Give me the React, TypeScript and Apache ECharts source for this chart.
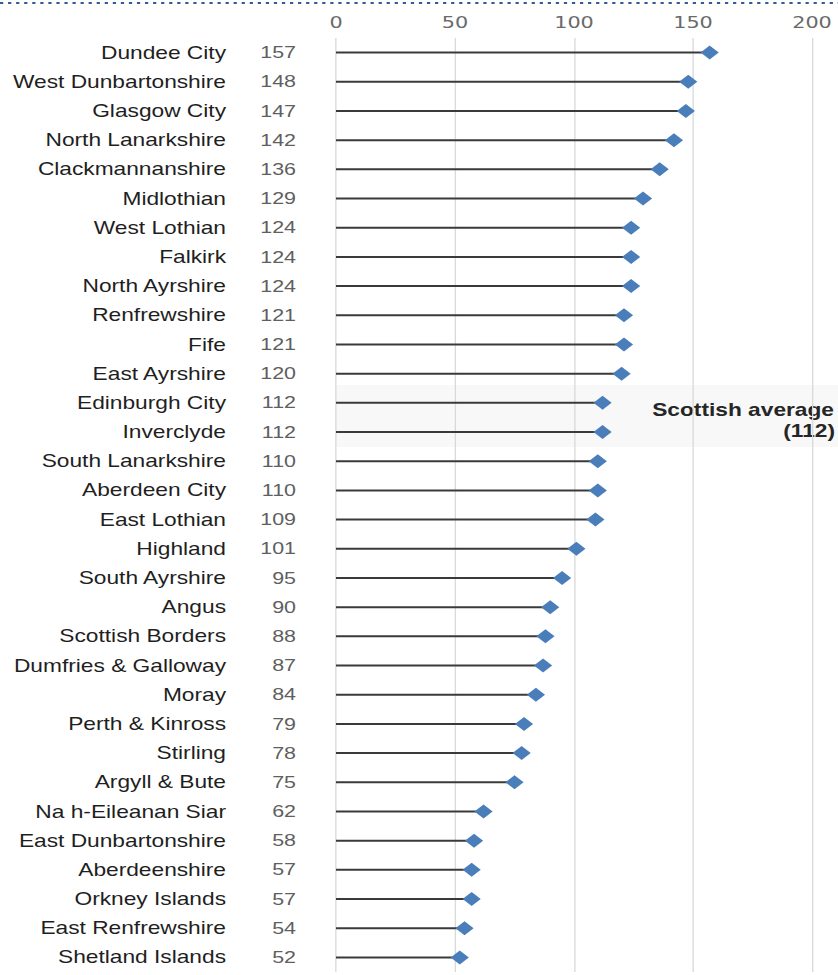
import React, { useEffect, useRef } from "react";
import * as echarts from "echarts";

const names = [
  "Dundee City", "West Dunbartonshire", "Glasgow City", "North Lanarkshire", "Clackmannanshire",
  "Midlothian", "West Lothian", "Falkirk", "North Ayrshire", "Renfrewshire", "Fife",
  "East Ayrshire", "Edinburgh City", "Inverclyde", "South Lanarkshire", "Aberdeen City",
  "East Lothian", "Highland", "South Ayrshire", "Angus", "Scottish Borders",
  "Dumfries & Galloway", "Moray", "Perth & Kinross", "Stirling", "Argyll & Bute",
  "Na h-Eileanan Siar", "East Dunbartonshire", "Aberdeenshire", "Orkney Islands",
  "East Renfrewshire", "Shetland Islands",
];
const values = [
  157, 148, 147, 142, 136, 129, 124, 124, 124, 121, 121, 120, 112, 112, 110, 110,
  109, 101, 95, 90, 88, 87, 84, 79, 78, 75, 62, 58, 57, 57, 54, 52,
];
const xTicks = { min: 0, max: 200, interval: 50 };
const averageLabel = ["Scottish average", "(112)"];

const OUT_W = 838;
const H = 975;
const W = 645;
const S = OUT_W / W;

export default function App() {
  const ref = useRef<HTMLDivElement>(null);
  useEffect(() => {
    if (!ref.current) return;
    const chart = echarts.init(ref.current, null, { renderer: "svg" });
    const ix = (x: number) => x / S;
    chart.setOption({
      animation: false,
      backgroundColor: "#ffffff",
      grid: { left: ix(336), right: W - ix(812), top: 38, bottom: 3, containLabel: false },
      xAxis: {
        type: "value",
        position: "top",
        min: xTicks.min,
        max: xTicks.max,
        interval: xTicks.interval,
        axisLine: { show: false },
        axisTick: { show: false },
        splitLine: { show: true, lineStyle: { color: "#d9d9d9", width: 1 } },
        axisLabel: { color: "#6a6a6a", fontFamily: "DejaVu Sans", fontSize: 16, margin: 8 },
      },
      yAxis: [
        {
          type: "category",
          data: names,
          inverse: true,
          position: "left",
          axisLine: { show: false },
          axisTick: { show: false },
          splitLine: { show: false },
          axisLabel: {
            interval: 0,
            margin: ix(336) - ix(226),
            color: "#1f1f1f",
            fontFamily: "Liberation Sans, Arial, sans-serif",
            fontSize: 17.5,
            padding: [0, 0, 2, 0],
          },
        },
        {
          type: "category",
          data: names,
          inverse: true,
          position: "left",
          axisLine: { show: false },
          axisTick: { show: false },
          splitLine: { show: false },
          axisLabel: {
            interval: 0,
            margin: ix(336) - ix(296),
            color: "#5f5f5f",
            fontFamily: "Liberation Sans, Arial, sans-serif",
            fontSize: 16.5,
            align: "right",
            padding: [0, 0, 9, 0],
            formatter: (_v: string, i: number) => String(values[i]),
          },
        },
      ],
      graphic: [
        {
          type: "rect",
          z: -1,
          silent: true,
          shape: { x: ix(336), y: 385, width: W - ix(336), height: 62 },
          style: { fill: "#f8f8f8" },
        },
        {
          type: "line",
          silent: true,
          shape: { x1: 0, y1: 3, x2: W, y2: 3 },
          style: { stroke: "#2f5f96", lineWidth: 2, lineDash: [2.5, 3.7] },
        },
        {
          type: "text",
          silent: true,
          x: ix(834),
          y: 410,
          style: {
            text: averageLabel[0],
            fill: "#262626",
            font: "bold 17.5px 'Liberation Sans', Arial, sans-serif",
            align: "right",
            verticalAlign: "middle",
            textAlign: "right",
            textVerticalAlign: "middle",
          },
        },
        {
          type: "text",
          silent: true,
          x: ix(835),
          y: 431,
          style: {
            text: averageLabel[1],
            fill: "#262626",
            font: "bold 17.5px 'Liberation Sans', Arial, sans-serif",
            align: "right",
            verticalAlign: "middle",
            textAlign: "right",
            textVerticalAlign: "middle",
          },
        },
      ],
      series: [
        {
          type: "bar",
          yAxisIndex: 0,
          data: values,
          barWidth: 2,
          itemStyle: { color: "#3a3a3a" },
          silent: true,
          z: 2,
        },
        {
          type: "scatter",
          yAxisIndex: 0,
          data: values.map((v, i) => [v, i]),
          symbol: "diamond",
          symbolSize: [14, 14],
          itemStyle: { color: "#4a7ebb", opacity: 1 },
          silent: true,
          z: 3,
        },
      ],
    });
    return () => chart.dispose();
  }, []);
  return (
    <div
      ref={ref}
      style={{
        position: "absolute",
        left: 0,
        top: 0,
        width: W,
        height: H,
        transform: `scaleX(${S})`,
        transformOrigin: "0 0",
      }}
    />
  );
}
